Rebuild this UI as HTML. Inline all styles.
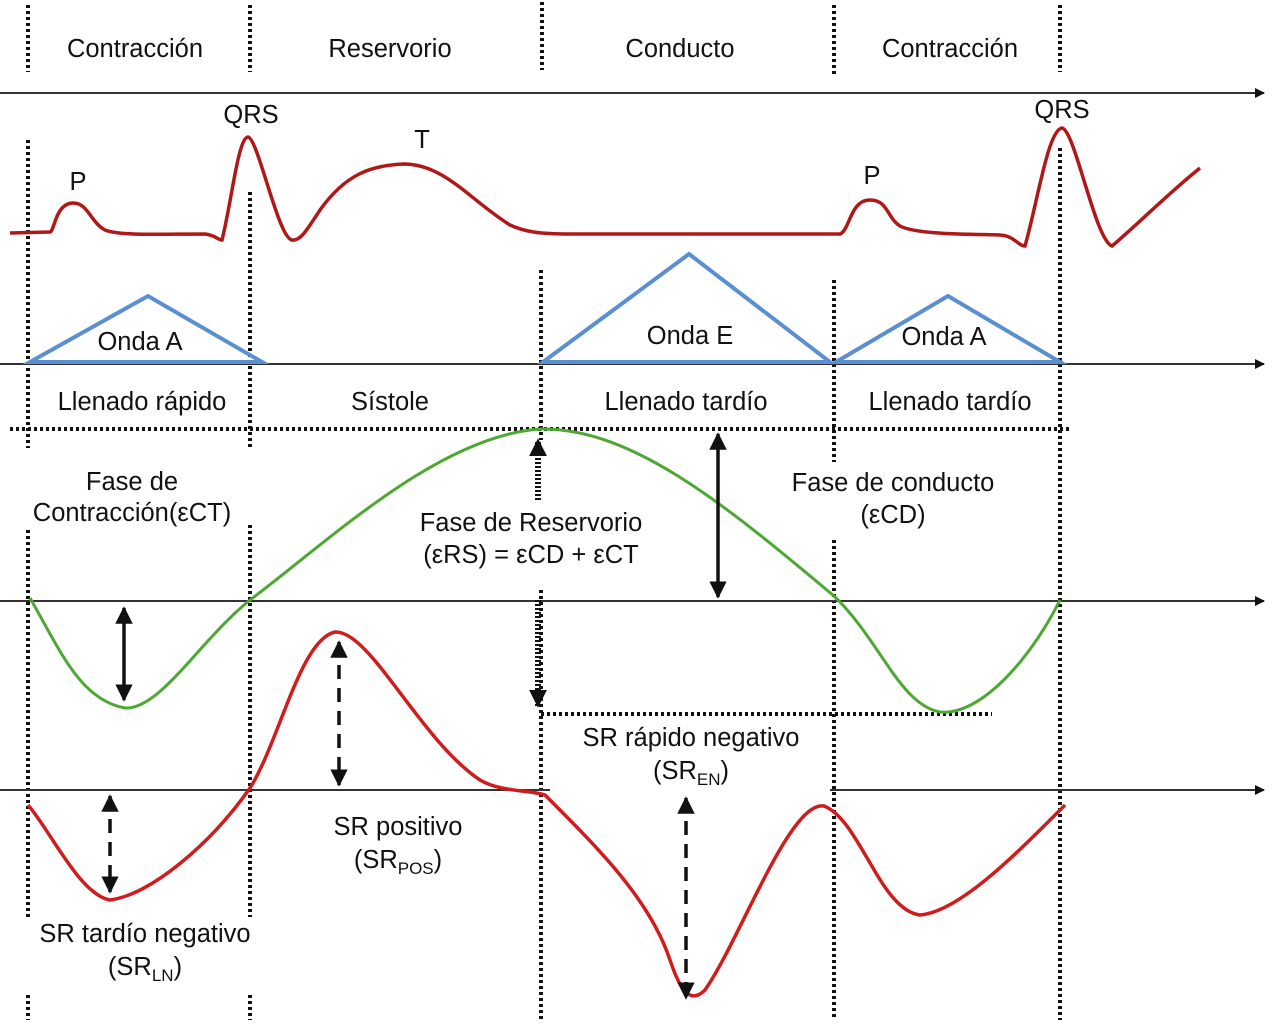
<!DOCTYPE html>
<html><head><meta charset="utf-8"><style>
html,body{margin:0;padding:0;background:#fff;}
svg{display:block;}
text{font-family:"Liberation Sans",Arial,sans-serif;font-size:25.5px;fill:#111;}
</style></head><body>
<svg width="1276" height="1024" viewBox="0 0 1276 1024" xmlns="http://www.w3.org/2000/svg">
<defs>
<marker id="ah" viewBox="0 0 10 10" refX="9" refY="5" markerWidth="5" markerHeight="5" orient="auto-start-reverse"><path d="M0,0 L10,5 L0,10 z" fill="#111"/></marker>
<marker id="at" viewBox="0 0 10 10" refX="9" refY="5" markerWidth="3" markerHeight="3" orient="auto-start-reverse"><path d="M0,0 L10,5 L0,10 z" fill="#111"/></marker>
<marker id="ab" viewBox="0 0 10 10" refX="9" refY="5" markerWidth="6" markerHeight="5" orient="auto-start-reverse"><path d="M0,0 L10,5 L0,10 z" fill="#111"/></marker>
</defs>
<g stroke="#111" stroke-width="4" stroke-dasharray="3,3" fill="none">
<line x1="28" y1="5" x2="28" y2="72"/><line x1="28" y1="140" x2="28" y2="448"/><line x1="28" y1="530" x2="28" y2="917"/><line x1="28" y1="995" x2="28" y2="1020"/>
<line x1="250" y1="5" x2="250" y2="72"/><line x1="250" y1="192" x2="250" y2="448"/><line x1="250" y1="525" x2="250" y2="917"/><line x1="250" y1="995" x2="250" y2="1020"/>
<line x1="542" y1="2" x2="542" y2="70"/><line x1="541" y1="270" x2="541" y2="440"/><line x1="541" y1="590" x2="541" y2="1020"/>
<line x1="834" y1="5" x2="834" y2="75"/><line x1="834" y1="280" x2="834" y2="462"/><line x1="834" y1="540" x2="834" y2="1020"/>
<line x1="1060" y1="5" x2="1060" y2="72"/><line x1="1060" y1="148" x2="1060" y2="1020"/>
<line x1="10" y1="429" x2="1072" y2="429"/>
<line x1="541" y1="714" x2="992" y2="714"/>
</g>
<g stroke="#333" stroke-width="2" fill="none">
<line x1="0" y1="93" x2="1264" y2="93" marker-end="url(#ab)"/>
<line x1="0" y1="364" x2="1264" y2="364" marker-end="url(#ab)"/>
<line x1="0" y1="601" x2="1264" y2="601" marker-end="url(#ab)"/>
<line x1="0" y1="790" x2="550" y2="790"/>
<line x1="830" y1="790" x2="1264" y2="790" marker-end="url(#ab)"/>
</g>
<path d="M10,233 L50,232 C55,230 55,205 72,203 C88,202 90,222 105,230 C120,236 160,234 205,234 C215,235 218,240 222,240 C232,200 238,138 248,137 C258,138 278,238 292,240 C300,241 305,233 320,210 C345,175 370,165 405,164 C445,165 470,200 510,225 C525,232 540,234 570,234 L840,234 C850,230 850,200 870,200 C888,200 887,218 900,226 C915,234 960,234 1000,235 C1015,236 1018,246 1025,246 C1038,200 1048,130 1062,128 C1075,130 1095,240 1112,246 C1140,222 1170,192 1200,168" stroke="#b01818" stroke-width="3.5" fill="none"/>
<g stroke="#5a8fd0" stroke-width="4" fill="none">
<path d="M30,362 L148,296 L262,362 Z"/>
<path d="M543,362 L689,254 L830,362 Z"/>
<path d="M836,362 L948,296 L1060,362 Z"/>
</g>
<path d="M30,598 C60,650 80,700 125,708 C160,710 200,640 250,600 C330,540 440,435 541,429 C630,428 720,500 834,596 C880,640 900,705 940,712 C980,716 1030,660 1060,600" stroke="#4ca832" stroke-width="3" fill="none"/>
<path d="M28,805 C50,830 80,895 110,900 C150,895 210,845 250,788 C280,740 300,640 335,632 C370,630 420,740 480,780 C500,792 530,790 545,795 C600,850 650,900 670,960 C680,990 690,1005 705,990 C740,940 790,800 824,806 C860,820 880,910 920,915 C960,912 1020,850 1065,805" stroke="#d01c1c" stroke-width="3.5" fill="none"/>
<g stroke="#111" stroke-width="3.5" fill="none">
<line x1="124" y1="608" x2="124" y2="700" marker-start="url(#ah)" marker-end="url(#ah)"/>
<line x1="718" y1="434" x2="718" y2="597" marker-start="url(#ah)" marker-end="url(#ah)"/>
<line x1="110" y1="796" x2="110" y2="892" stroke-dasharray="14,9" marker-start="url(#ah)" marker-end="url(#ah)"/>
<line x1="339" y1="642" x2="339" y2="785" stroke-dasharray="14,9" marker-start="url(#ah)" marker-end="url(#ah)"/>
<line x1="686" y1="798" x2="686" y2="998" stroke-dasharray="14,9" marker-start="url(#ah)" marker-end="url(#ah)"/>
<line x1="538" y1="500" x2="538" y2="440" stroke-width="6" stroke-dasharray="2,2" marker-end="url(#at)"/>
<line x1="538" y1="600" x2="538" y2="706" stroke-width="6" stroke-dasharray="2,2" marker-end="url(#at)"/>
</g>
<g text-anchor="middle">
<text x="135" y="57">Contracción</text>
<text x="390" y="57">Reservorio</text>
<text x="680" y="57">Conducto</text>
<text x="950" y="57">Contracción</text>
<text x="251" y="123">QRS</text>
<text x="1062" y="118">QRS</text>
<text x="78" y="190">P</text>
<text x="872" y="184">P</text>
<text x="422" y="148">T</text>
<text x="140" y="350">Onda A</text>
<text x="690" y="344">Onda E</text>
<text x="944" y="345">Onda A</text>
<text x="142" y="410">Llenado rápido</text>
<text x="390" y="410">Sístole</text>
<text x="686" y="410">Llenado tardío</text>
<text x="950" y="410">Llenado tardío</text>
<text x="132" y="490">Fase de</text>
<text x="132" y="521">Contracción(εCT)</text>
<text x="893" y="491">Fase de conducto</text>
<text x="893" y="523">(εCD)</text>
<text x="531" y="531">Fase de Reservorio</text>
<text x="531" y="563">(εRS) = εCD + εCT</text>
<text x="691" y="746">SR rápido negativo</text>
<text x="691" y="779">(SR<tspan font-size="17" dy="6">EN</tspan><tspan dy="-6">)</tspan></text>
<text x="398" y="835">SR positivo</text>
<text x="398" y="868">(SR<tspan font-size="17" dy="6">POS</tspan><tspan dy="-6">)</tspan></text>
<text x="145" y="942">SR tardío negativo</text>
<text x="145" y="975">(SR<tspan font-size="17" dy="6">LN</tspan><tspan dy="-6">)</tspan></text>
</g>
</svg>
</body></html>
